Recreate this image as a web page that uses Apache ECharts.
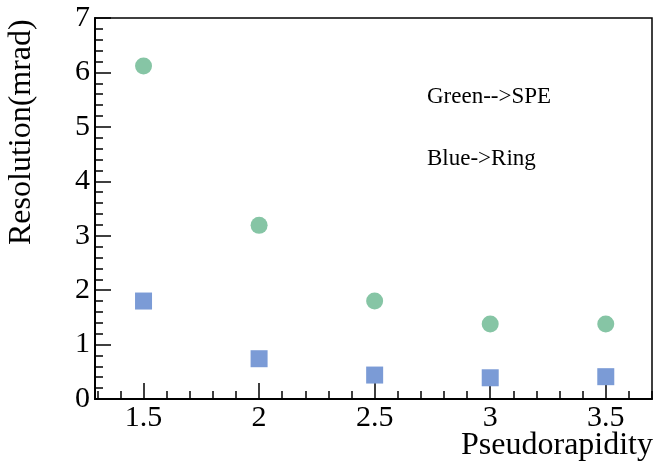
<!DOCTYPE html>
<html>
<head>
<meta charset="UTF-8">
<title>Resolution vs Pseudorapidity</title>
<script src="https://cdn.jsdelivr.net/npm/echarts@6/dist/echarts.min.js"></script>
<style>
  html, body { margin: 0; padding: 0; background: #fff; }
  #main { width: 655px; height: 462px; }
</style>
</head>
<body>
<div id="main"></div>
<script>
// data
var eta = [1.5, 2, 2.5, 3, 3.5];
var speRes = [6.12, 3.19, 1.80, 1.38, 1.38];   // green circles
var ringRes = [1.80, 0.74, 0.44, 0.39, 0.41];  // blue squares
var xTicks = [1.5, 2, 2.5, 3, 3.5];
var yTicks = [0, 1, 2, 3, 4, 5, 6, 7];

var serif = '"Liberation Serif", "DejaVu Serif", serif';

// minor x ticks every 0.1
var xMinor = [];
for (var i = 13; i <= 37; i++) {
    if (i % 5 != 0) xMinor.push(i / 10);
}

function pairs(xs, ys) {
    return xs.map(function (x, k) { return [x, ys[k]]; });
}

var chart = echarts.init(document.getElementById('main'));
chart.setOption({
    animation: false,
    grid: {
        left: 95, right: 3, top: 18, bottom: 63,
        show: true, borderColor: '#000', borderWidth: 1.5,
        outerBoundsMode: 'none'
    },
    xAxis: [
        {
            type: 'value', min: 1.29, max: 3.7,
            splitLine: { show: false },
            axisLine: { lineStyle: { color: '#000', width: 2 } },
            axisTick: { inside: true, length: 16, customValues: xTicks, lineStyle: { color: '#000', width: 1.5 } },
            axisLabel: {
                customValues: xTicks, margin: 4,
                color: '#000', fontFamily: serif, fontSize: 30
            }
        },
        {
            type: 'value', min: 1.29, max: 3.7, position: 'bottom',
            splitLine: { show: false },
            axisLine: { show: false },
            axisTick: { inside: true, length: 8, customValues: xMinor, lineStyle: { color: '#000', width: 1.5 } },
            axisLabel: { show: false }
        }
    ],
    yAxis: {
        type: 'value', min: yTicks[0], max: yTicks[yTicks.length - 1], interval: 1,
        splitLine: { show: false },
        axisLine: { show: true, lineStyle: { color: '#000', width: 2 } },
        axisTick: { show: true, inside: true, length: 16, lineStyle: { color: '#000', width: 1.5 } },
        minorTick: { show: true, splitNumber: 5, length: 8, lineStyle: { color: '#000', width: 1.5 } },
        axisLabel: { margin: 5, color: '#000', fontFamily: serif, fontSize: 30 }
    },
    graphic: [
        {
            type: 'text', x: 22, y: 245, rotation: Math.PI / 2,
            style: { text: 'Resolution(mrad)', fontFamily: serif, fontSize: 32, fill: '#000',
                     textAlign: 'left', textVerticalAlign: 'middle' }
        },
        {
            type: 'text', x: 653, y: 446,
            style: { text: 'Pseudorapidity', fontFamily: serif, fontSize: 32, fill: '#000',
                     textAlign: 'right', textVerticalAlign: 'middle' }
        },
        {
            type: 'text', x: 427, y: 97,
            style: { text: 'Green-->SPE', fontFamily: serif, fontSize: 23, fill: '#000',
                     textAlign: 'left', textVerticalAlign: 'middle' }
        },
        {
            type: 'text', x: 427, y: 159,
            style: { text: 'Blue->Ring', fontFamily: serif, fontSize: 23, fill: '#000',
                     textAlign: 'left', textVerticalAlign: 'middle' }
        }
    ],
    series: [
        {
            name: 'SPE', type: 'scatter', xAxisIndex: 0,
            symbol: 'circle', symbolSize: 17,
            itemStyle: { color: '#86c5a5', opacity: 1 },
            data: pairs(eta, speRes)
        },
        {
            name: 'Ring', type: 'scatter', xAxisIndex: 0,
            symbol: 'rect', symbolSize: 17,
            itemStyle: { color: '#7b9bd6', opacity: 1 },
            data: pairs(eta, ringRes)
        }
    ]
});
</script>
</body>
</html>
